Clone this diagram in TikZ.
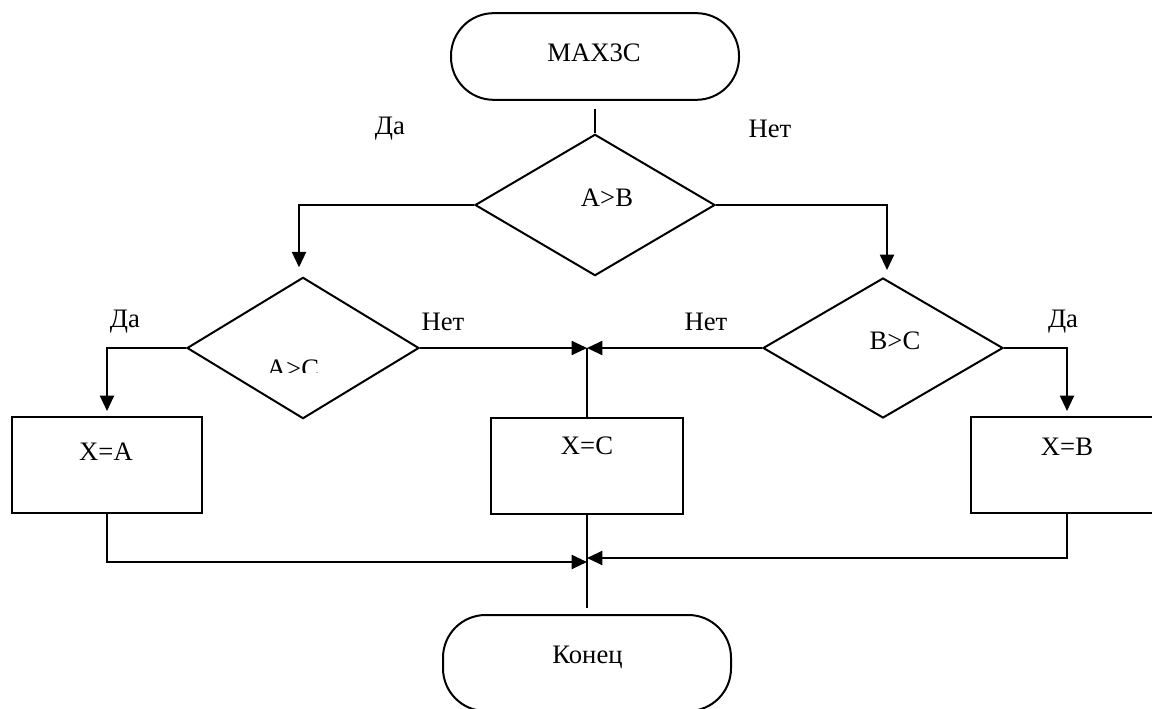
\documentclass[tikz,border=0pt]{standalone}
\usepackage{fontspec}
\setmainfont{Liberation Serif}
\usetikzlibrary{shapes.geometric,arrows.meta,calc}

\begin{document}
\begin{tikzpicture}[
  x=0.75pt, y=-0.75pt,
  line width=1.5pt,
  every node/.style={font=\fontsize{20}{24}\selectfont, inner sep=0pt},
  term/.style={draw, rectangle, rounded corners=32pt, minimum width=216pt, minimum height=65pt},
  decision/.style={draw, diamond, minimum width=180pt, minimum height=106pt},
  action/.style={draw, rectangle, minimum width=143pt, minimum height=72pt},
  arr/.style={-{Triangle[length=11.5pt,width=10.5pt]}},
  lbl/.style={font=\fontsize{20}{24}\selectfont}
]
\useasboundingbox (0,0) rectangle (1152,709);

% blocks
\node[term] (start) at (595,56.5) {};
\node at (594,53) {MAX3C};

\node[decision] (ab) at (595,205) {};
\node at (607,198) {A>B};

\node[decision, minimum width=174pt, minimum height=106pt] (ac) at (303,348) {};
\begin{scope}
  \clip (240,340) rectangle (360,372);
  \node at (293,369) {A>C};
\end{scope}

\node[decision, minimum height=105pt] (bc) at (883,348) {};
\node at (895,341) {B>C};

\node[action, minimum width=142.5pt] (xa) at (107,465) {};
\node at (106,452) {X=A};

\node[action, minimum width=144pt] (xc) at (587,466) {};
\node at (587,446) {X=C};

\node[action, minimum width=150pt] (xb) at (1071,465) {};
\node at (1067,447) {X=B};

\node[term, minimum height=72pt, rounded corners=32pt] (end) at (587,663) {};
\node at (587.5,657) {Конец};

% branch labels
\node[lbl] at (390,129) {Да};
\node[lbl] at (770,129) {Нет};
\node[lbl] at (125,322) {Да};
\node[lbl] at (443,322) {Нет};
\node[lbl] at (706,322) {Нет};
\node[lbl] at (1063,322) {Да};

% junction points
\coordinate (j1) at (587,348);
\coordinate (j2l) at (587,562);
\coordinate (j2r) at (587,558);

% connectors
\draw ($(start.south)+(0,8)$) -- (ab.north);
\draw[arr] (ab.west) -| ($(ac.north)+(-4,-9)$);
\draw[arr] (ab.east) -| ($(bc.north)+(4,-7)$);

\draw[arr] (ac.west) -| ($(xa.north)+(0,-5)$);
\draw[arr] (ac.east) -- (j1);
\draw[arr] (bc.west) -- (j1);
\draw (j1) -- (xc.north);
\draw[arr] (bc.east) -| ($(xb.north)+(-4,-5)$);

\draw[arr] (xa.south) |- (j2l);
\draw[arr] ($(xb.south)+(-4,0)$) |- (j2r);
\draw (xc.south) -- ($(end.north)+(0,-6)$);
\end{tikzpicture}
\end{document}
